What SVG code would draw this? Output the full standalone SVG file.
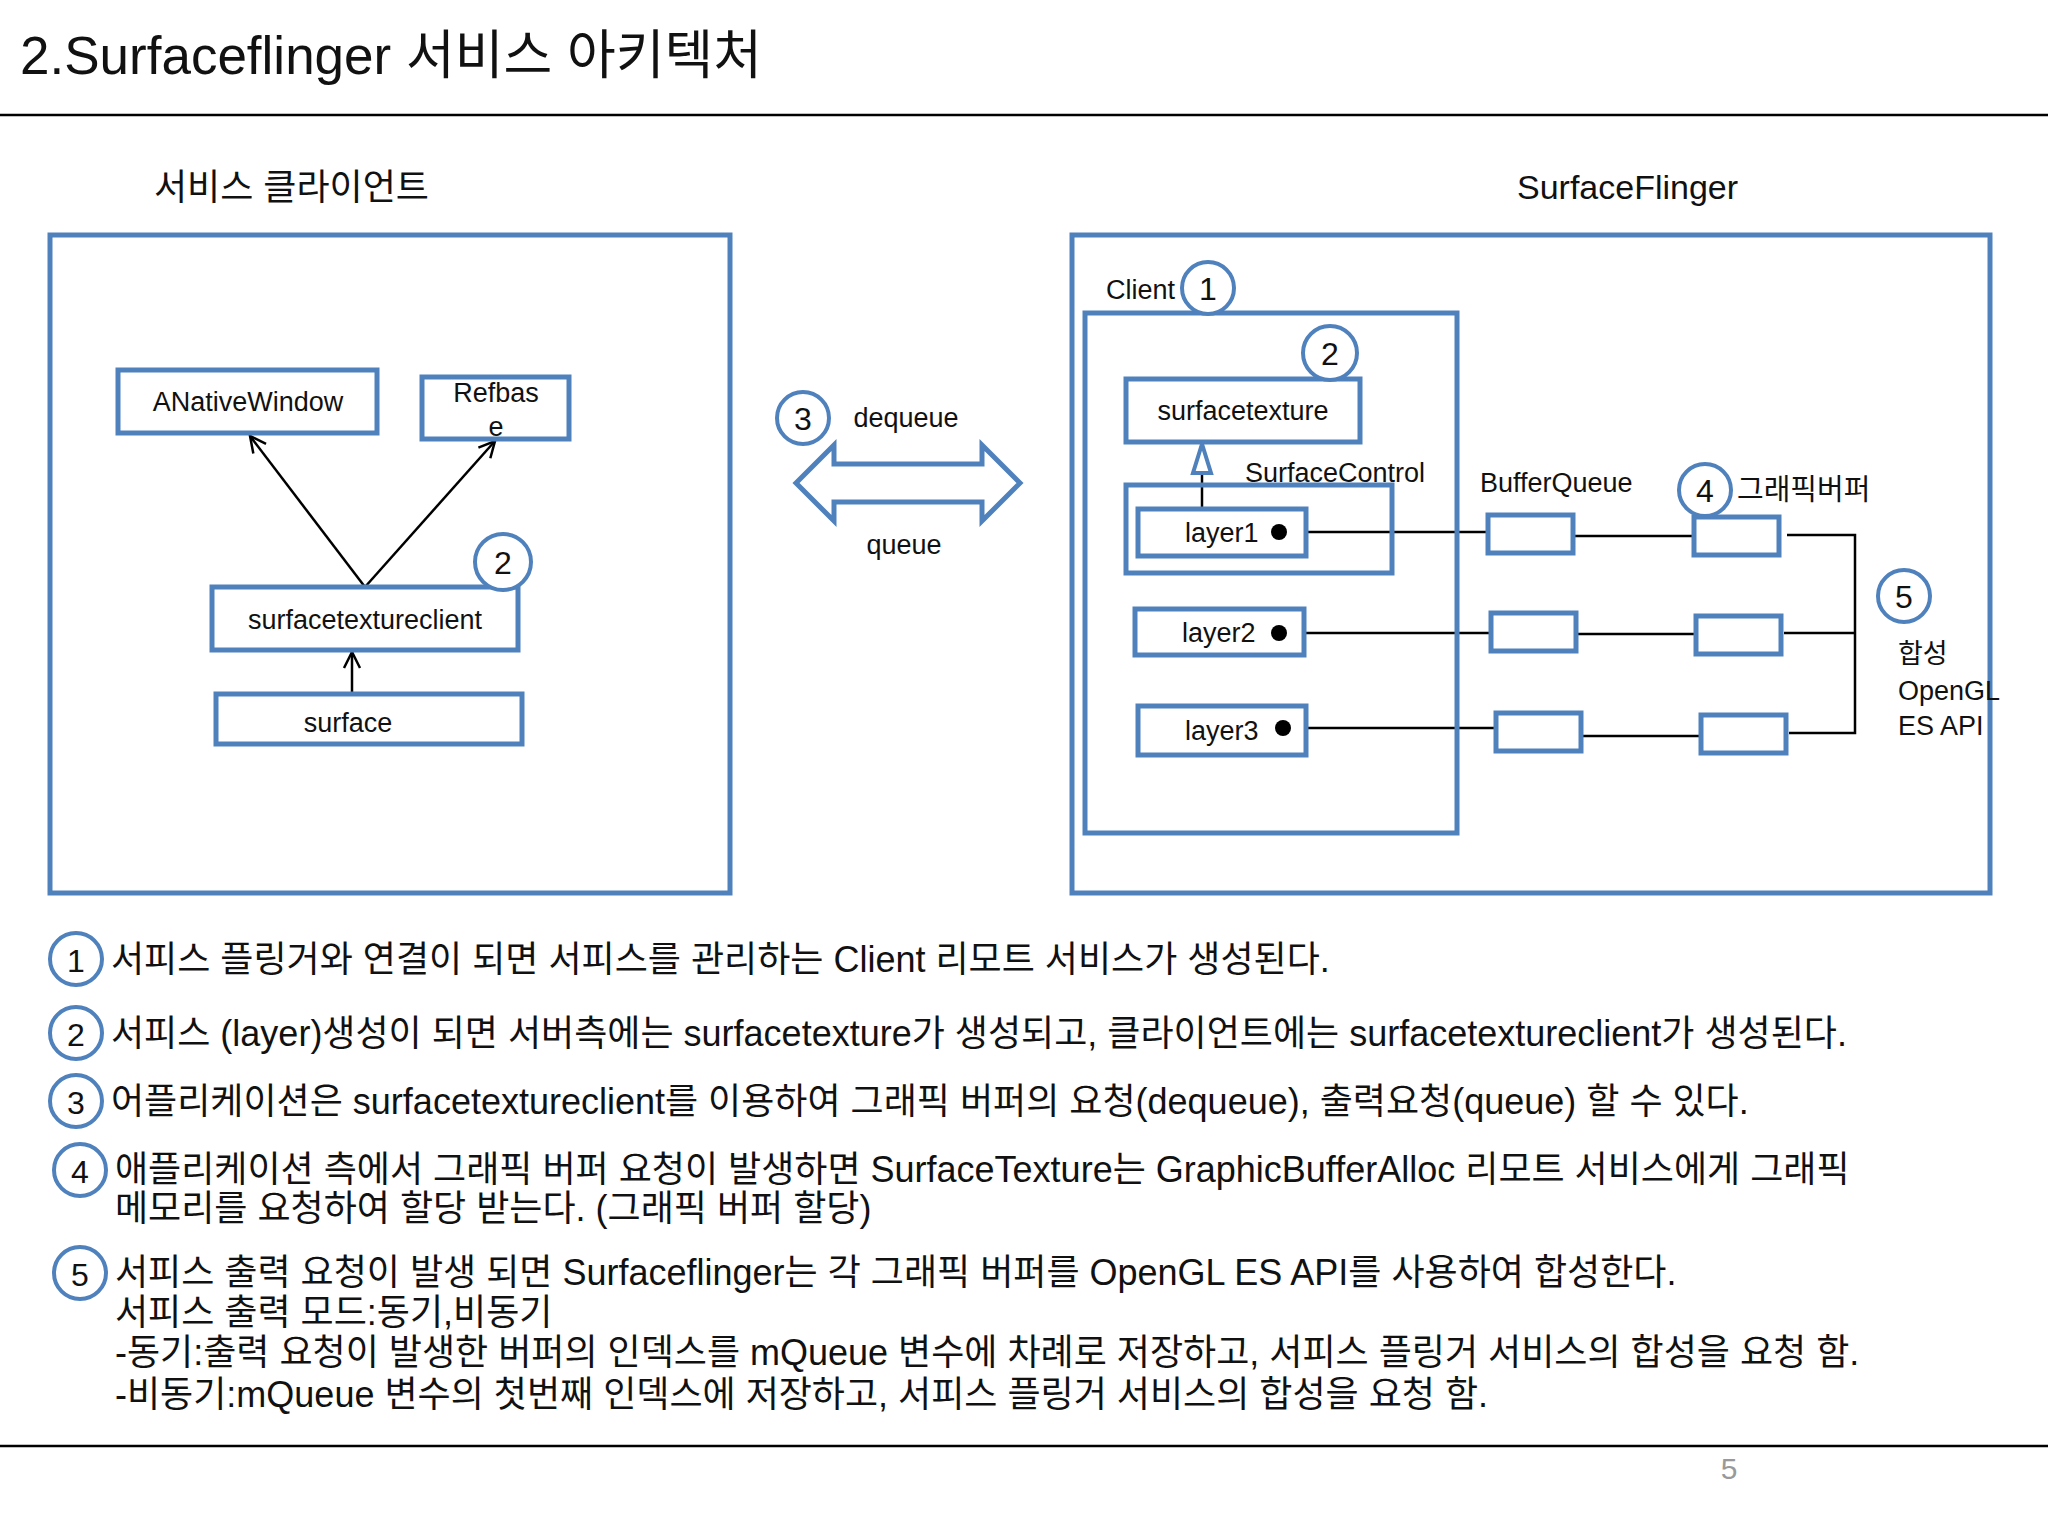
<svg xmlns="http://www.w3.org/2000/svg" width="2048" height="1536" viewBox="0 0 2048 1536">
<defs>
<style>
text{font-family:"Liberation Sans","Noto Sans CJK KR",sans-serif;fill:#111}
.b{fill:#fff;stroke:#4f81bd;stroke-width:5}
.f{fill:none;stroke:#4f81bd;stroke-width:5}
.c{fill:#fff;stroke:#4f81bd;stroke-width:4}
.l{stroke:#000;stroke-width:2.5;fill:none}
.n{font-size:32px;text-anchor:middle;dominant-baseline:central}
.t{font-size:27px;dominant-baseline:central}
.m{font-size:27px;text-anchor:middle;dominant-baseline:central}
.d{font-size:36px;dominant-baseline:central}
</style>
<marker id="open" viewBox="0 0 20 20" refX="18" refY="10" markerWidth="20" markerHeight="20" markerUnits="userSpaceOnUse" orient="auto"><path d="M2,2 L18,10 L2,18" fill="none" stroke="#000" stroke-width="2.5"/></marker>
</defs>
<rect width="2048" height="1536" fill="#fff"/>
<text x="20" y="55" style="font-size:53px;dominant-baseline:central">2.Surfaceflinger 서비스 아키텍처</text>
<line x1="0" y1="115" x2="2048" y2="115" stroke="#000" stroke-width="2.5"/>
<text x="154" y="187" style="font-size:36px;dominant-baseline:central">서비스 클라이언트</text>
<text x="1517" y="187" style="font-size:34px;dominant-baseline:central">SurfaceFlinger</text>

<g id="clientBox"><rect class="f" x="50" y="235" width="680" height="658"/></g>
<g id="sfBox"><rect class="f" x="1072" y="235" width="918" height="658"/></g>

<g id="connectors">
<line class="l" x1="365" y1="587" x2="250" y2="436" marker-end="url(#open)"/>
<line class="l" x1="365" y1="587" x2="495" y2="441" marker-end="url(#open)"/>
<line class="l" x1="352" y1="693" x2="352" y2="652" marker-end="url(#open)"/>
<line class="l" x1="1202" y1="509" x2="1202" y2="473"/>
<polygon points="1202,444 1193,473 1211,473" fill="#fff" stroke="#4f81bd" stroke-width="4"/>
<line class="l" x1="1279" y1="532" x2="1488" y2="532"/>
<line class="l" x1="1573" y1="536" x2="1694" y2="536"/>
<line class="l" x1="1279" y1="633" x2="1491" y2="633"/>
<line class="l" x1="1576" y1="634" x2="1696" y2="634"/>
<line class="l" x1="1283" y1="728" x2="1496" y2="728"/>
<line class="l" x1="1581" y1="736" x2="1701" y2="736"/>
<polyline class="l" points="1787,535 1855,535 1855,733 1789,733"/>
<line class="l" x1="1784" y1="633" x2="1855" y2="633"/>
</g>

<g id="anw"><rect class="b" x="118" y="370" width="259" height="63"/><text class="m" x="248" y="402">ANativeWindow</text></g>
<g id="refbase"><rect class="b" x="422" y="377" width="147" height="62"/><text class="m" x="496" y="393">Refbas</text><text class="m" x="496" y="427">e</text></g>
<g id="stc"><rect class="b" x="212" y="587" width="306" height="63"/><text class="m" x="365" y="620">surfacetextureclient</text></g>
<g id="c2a"><circle class="c" cx="503" cy="562" r="28"/><text class="n" x="503" y="563">2</text></g>
<g id="surface"><rect class="b" x="216" y="694" width="306" height="50"/><text class="m" x="348" y="723">surface</text></g>

<g id="dq">
<circle class="c" cx="803" cy="418" r="26"/><text class="n" x="803" y="419">3</text>
<text class="m" x="906" y="418">dequeue</text>
<polygon class="b" points="796,483 834,445 834,464 982,464 982,445 1020,483 982,521 982,502 834,502 834,521"/>
<text class="m" x="904" y="545">queue</text>
</g>

<g id="client">
<rect class="f" x="1085" y="313" width="372" height="520"/>
<text class="t" x="1106" y="290">Client</text>
<circle class="c" cx="1208" cy="288" r="26"/><text class="n" x="1208" y="289">1</text>
</g>
<g id="st"><rect class="b" x="1126" y="379" width="234" height="63"/><text class="m" x="1243" y="411">surfacetexture</text>
<circle class="c" cx="1330" cy="353" r="27"/><text class="n" x="1330" y="354">2</text></g>
<g id="sc"><rect class="f" x="1126" y="485" width="266" height="88"/><text class="t" x="1245" y="473">SurfaceControl</text></g>
<g id="layer1"><rect class="b" x="1138" y="509" width="168" height="47"/><text class="t" x="1185" y="533">layer1</text><circle cx="1279" cy="532" r="8" fill="#000"/></g>
<g id="layer2"><rect class="b" x="1135" y="609" width="169" height="46"/><text class="t" x="1182" y="633">layer2</text><circle cx="1279" cy="633" r="8" fill="#000"/></g>
<g id="layer3"><rect class="b" x="1138" y="706" width="168" height="49"/><text class="t" x="1185" y="731">layer3</text><circle cx="1283" cy="728" r="8" fill="#000"/></g>

<g id="bq"><text class="t" x="1480" y="483">BufferQueue</text>
<rect class="b" x="1488" y="515" width="85" height="38"/>
<rect class="b" x="1491" y="613" width="85" height="38"/>
<rect class="b" x="1496" y="713" width="85" height="38"/></g>
<g id="gb">
<circle class="c" cx="1705" cy="490" r="26"/><text class="n" x="1705" y="491">4</text>
<text class="t" x="1737" y="490" style="font-size:29px">그래픽버퍼</text>
<rect class="b" x="1694" y="517" width="85" height="38"/>
<rect class="b" x="1696" y="616" width="85" height="38"/>
<rect class="b" x="1701" y="715" width="85" height="38"/></g>
<g id="comp">
<circle class="c" cx="1904" cy="596" r="26"/><text class="n" x="1904" y="597">5</text>
<text class="t" x="1898" y="654">합성</text>
<text class="t" x="1898" y="691">OpenGL</text>
<text class="t" x="1898" y="726">ES API</text></g>

<g id="notes">
<circle class="c" cx="76" cy="959" r="26"/><text class="n" x="76" y="961">1</text>
<text class="d" x="111" y="959">서피스 플링거와 연결이 되면 서피스를 관리하는 Client 리모트 서비스가 생성된다.</text>
<circle class="c" cx="76" cy="1033" r="26"/><text class="n" x="76" y="1035">2</text>
<text class="d" x="111" y="1033">서피스 (layer)생성이 되면 서버측에는 surfacetexture가 생성되고, 클라이언트에는 surfacetextureclient가 생성된다.</text>
<circle class="c" cx="76" cy="1101" r="26"/><text class="n" x="76" y="1103">3</text>
<text class="d" x="111" y="1101">어플리케이션은 surfacetextureclient를 이용하여 그래픽 버퍼의 요청(dequeue), 출력요청(queue) 할 수 있다.</text>
<circle class="c" cx="80" cy="1170" r="26"/><text class="n" x="80" y="1172">4</text>
<text class="d" x="115" y="1169">애플리케이션 측에서 그래픽 버퍼 요청이 발생하면 SurfaceTexture는 GraphicBufferAlloc 리모트 서비스에게 그래픽</text>
<text class="d" x="115" y="1208">메모리를 요청하여 할당 받는다. (그래픽 버퍼 할당)</text>
<circle class="c" cx="80" cy="1273" r="26"/><text class="n" x="80" y="1275">5</text>
<text class="d" x="115" y="1272">서피스 출력 요청이 발생 되면 Surfaceflinger는 각 그래픽 버퍼를 OpenGL ES API를 사용하여 합성한다.</text>
<text class="d" x="115" y="1312">서피스 출력 모드:동기,비동기</text>
<text class="d" x="115" y="1352">-동기:출력 요청이 발생한 버퍼의 인덱스를 mQueue 변수에 차례로 저장하고, 서피스 플링거 서비스의 합성을 요청 함.</text>
<text class="d" x="115" y="1394">-비동기:mQueue 변수의 첫번째 인덱스에 저장하고, 서피스 플링거 서비스의 합성을 요청 함.</text>
</g>
<line x1="0" y1="1446" x2="2048" y2="1446" stroke="#000" stroke-width="2.5"/>
<text x="1729" y="1468" style="font-size:30px;fill:#999;text-anchor:middle;dominant-baseline:central">5</text>
</svg>
